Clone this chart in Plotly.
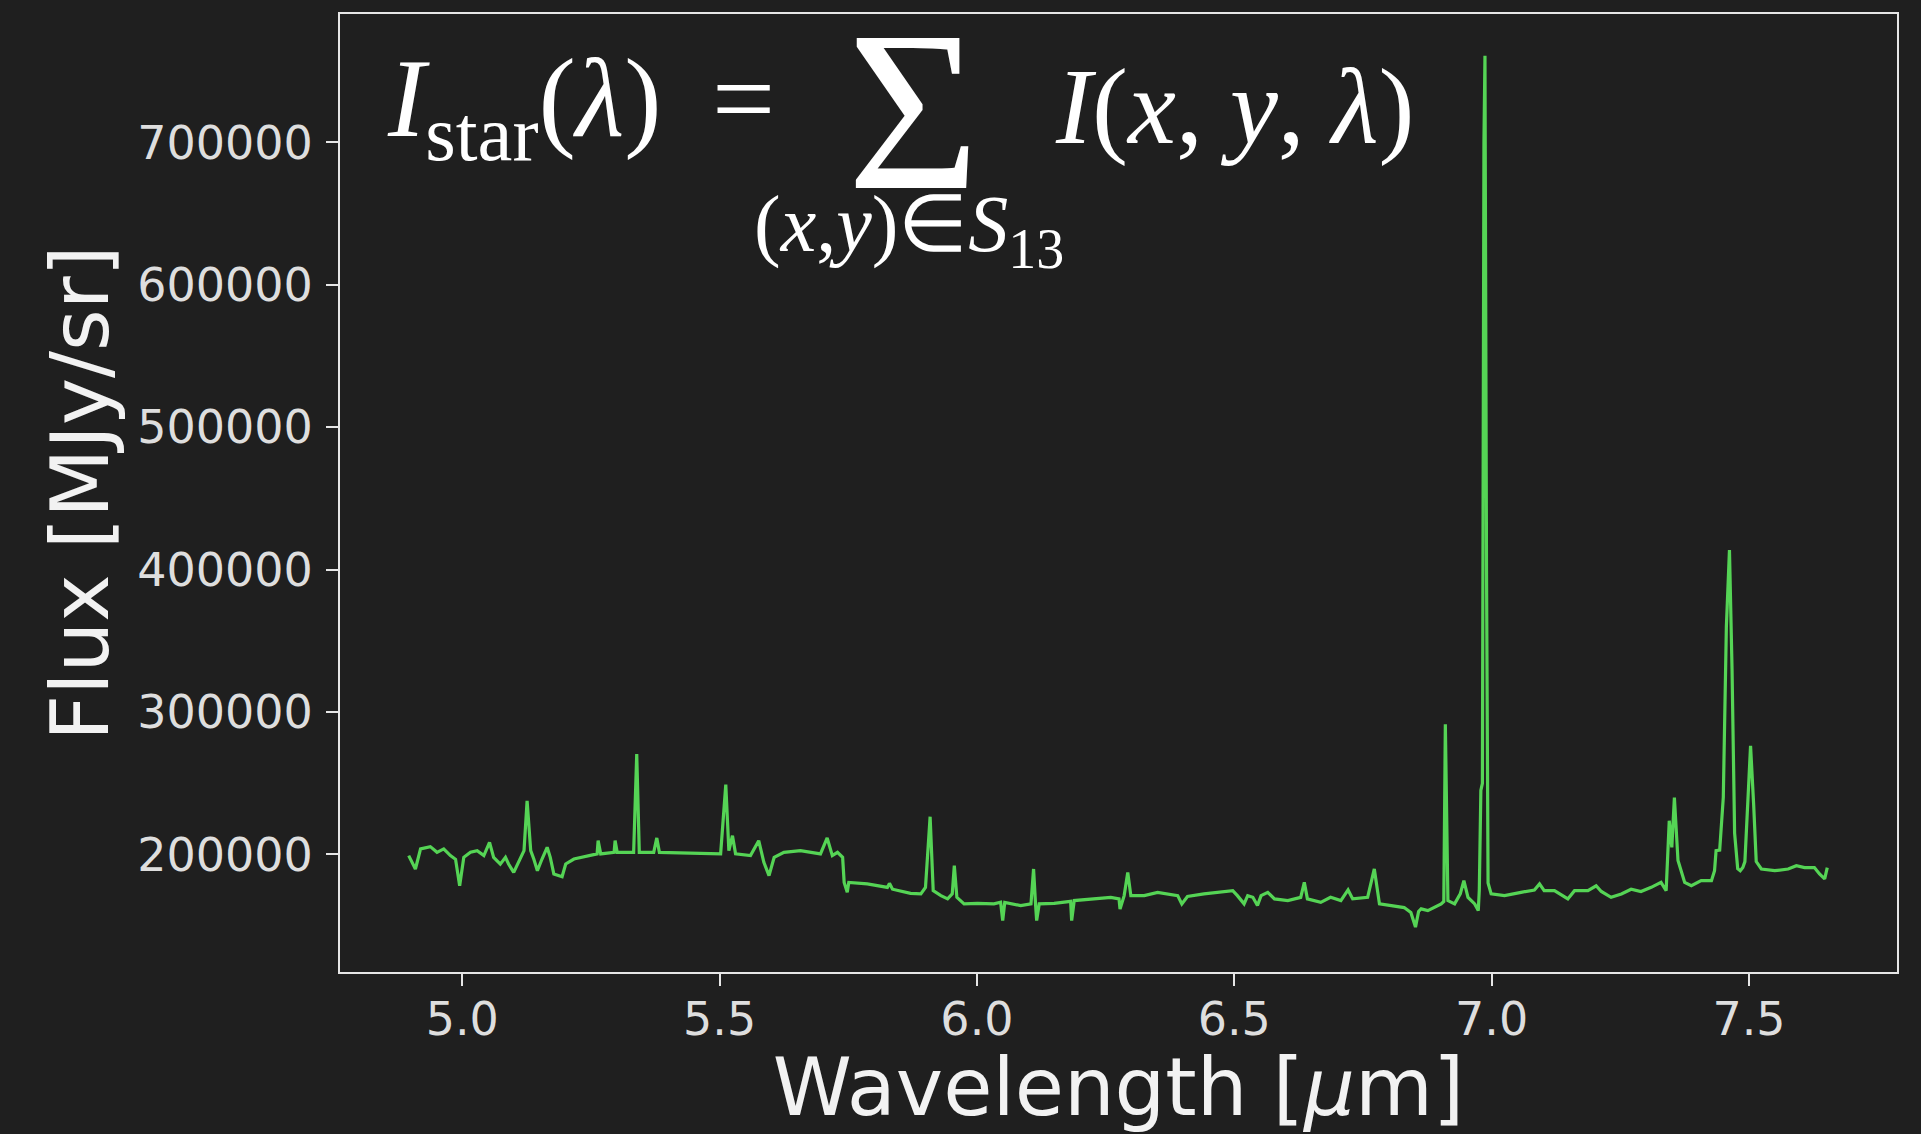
import plotly.graph_objects as go

# ---- data ----
wavelength = [
    4.896, 4.909, 4.919, 4.938, 4.951, 4.964, 4.977, 4.987, 4.995, 5.003,
    5.016, 5.029, 5.042, 5.053, 5.061, 5.074, 5.084, 5.090, 5.100, 5.110,
    5.120, 5.126, 5.133, 5.139, 5.146, 5.155, 5.165, 5.171, 5.178, 5.194,
    5.201, 5.217, 5.243, 5.262, 5.264, 5.269, 5.295, 5.297, 5.301, 5.333,
    5.339, 5.344, 5.372, 5.378, 5.383, 5.463, 5.502, 5.512, 5.518, 5.525,
    5.531, 5.560, 5.576, 5.586, 5.596, 5.606, 5.625, 5.657, 5.683, 5.696,
    5.709, 5.719, 5.729, 5.739, 5.742, 5.748, 5.751, 5.787, 5.826, 5.830,
    5.836, 5.871, 5.891, 5.900, 5.909, 5.915, 5.930, 5.943, 5.952, 5.956,
    5.961, 5.975, 6.001, 6.033, 6.046, 6.050, 6.054, 6.085, 6.105, 6.110,
    6.114, 6.116, 6.121, 6.150, 6.182, 6.184, 6.189, 6.228, 6.260, 6.276,
    6.278, 6.286, 6.293, 6.299, 6.325, 6.351, 6.390, 6.398, 6.409, 6.441,
    6.474, 6.497, 6.506, 6.519, 6.526, 6.536, 6.545, 6.552, 6.565, 6.578,
    6.604, 6.629, 6.636, 6.642, 6.668, 6.687, 6.707, 6.721, 6.730, 6.759,
    6.772, 6.782, 6.805, 6.830, 6.843, 6.852, 6.858, 6.863, 6.876, 6.889,
    6.902, 6.907, 6.910, 6.915, 6.928, 6.939, 6.946, 6.954, 6.967, 6.974,
    6.976, 6.979, 6.982, 6.985, 6.987, 6.990, 6.993, 6.999, 7.025, 7.057,
    7.083, 7.093, 7.102, 7.122, 7.148, 7.161, 7.187, 7.203, 7.213, 7.232,
    7.252, 7.271, 7.290, 7.310, 7.329, 7.339, 7.345, 7.350, 7.355, 7.362,
    7.375, 7.388, 7.407, 7.427, 7.433, 7.436, 7.443, 7.450, 7.456, 7.462,
    7.467, 7.472, 7.478, 7.483, 7.488, 7.492, 7.497, 7.503, 7.509, 7.514,
    7.524, 7.550, 7.576, 7.592, 7.608, 7.627, 7.637, 7.647, 7.652,
]
flux = [
    199200, 189800, 203900, 205500, 201500, 203900, 199200, 196600, 178100, 198000,
    201500, 202700, 199200, 208500, 198000, 193200, 198000, 193300, 187400, 194500,
    202700, 237700, 202700, 196800, 188600, 196800, 205000, 198000, 186300, 184400,
    193300, 196800, 199200, 200400, 209700, 200400, 201500, 209700, 201500, 201500,
    270500, 201500, 201500, 211600, 201500, 200400, 200400, 249000, 202700, 213200,
    200400, 199200, 209700, 194500, 185100, 198000, 201500, 202700, 201500, 200400,
    211600, 199200, 201500, 198000, 180400, 173400, 180400, 179300, 176900, 179700,
    175600, 172700, 172300, 176900, 226500, 174600, 171100, 168800, 172300, 192100,
    169900, 165300, 165700, 165300, 166400, 153600, 166400, 164100, 165300, 189800,
    164100, 153600, 165300, 165700, 167100, 153600, 167600, 168800, 169900, 168800,
    161600, 171100, 187400, 171100, 171100, 173400, 171100, 165300, 170500, 172300,
    173400, 174600, 171100, 165300, 171100, 169900, 164100, 171100, 173400, 168800,
    167600, 169900, 180400, 168800, 166400, 169900, 167600, 175100, 168800, 169900,
    189800, 165300, 164100, 162700, 159200, 149000, 160000, 161800, 160600, 162900,
    165300, 167000, 291500, 167600, 165300, 172300, 181600, 169900, 165300, 160600,
    175000, 245000, 250000, 700000, 760800, 400000, 180000, 172300, 171100, 173400,
    175000, 179300, 174600, 174600, 168800, 174600, 174600, 178000, 174000, 169900,
    172300, 175600, 174000, 176900, 180400, 174600, 223700, 205000, 240000, 195700,
    180400, 178100, 181600, 181600, 188600, 202700, 203000, 240000, 360000, 413700,
    330000, 215000, 190000, 188600, 190800, 195000, 235000, 276300, 235000, 195000,
    189800, 188600, 189800, 192100, 190800, 190800, 186300, 182800, 190800,
]

x_ticks = [5.0, 5.5, 6.0, 6.5, 7.0, 7.5]
y_ticks = [200000, 300000, 400000, 500000, 600000, 700000]

BG = "#1f1f1f"
FG = "#e6e6e6"
LINE = "#55d455"

fig = go.Figure()
fig.add_trace(go.Scatter(
    x=wavelength, y=flux, mode="lines",
    line=dict(color=LINE, width=3.2),
    hoverinfo="skip", showlegend=False,
))

axis_common = dict(
    showgrid=False, zeroline=False, showline=True, mirror=True,
    linecolor=FG, linewidth=2, ticks="outside", ticklen=12, tickwidth=2,
    tickcolor=FG, tickfont=dict(family="DejaVu Sans", size=46, color="#dedede"),
)

fig.update_layout(
    width=1921, height=1134,
    paper_bgcolor=BG, plot_bgcolor=BG,
    margin=dict(l=340, r=24, t=12, b=162),
    xaxis=dict(
        range=[4.7625, 7.7875], tickvals=x_ticks,
        ticktext=[f"{v:.1f}" for v in x_ticks],
        title=dict(text="Wavelength [<i>μ</i>m]", standoff=14,
                   font=dict(family="DejaVu Sans", size=80, color="#f2f2f2")),
        **axis_common,
    ),
    yaxis=dict(
        range=[117462, 790182], tickvals=y_ticks,
        ticktext=[str(v) for v in y_ticks],
        title=dict(text="Flux [MJy/sr]", standoff=2,
                   font=dict(family="DejaVu Sans", size=80, color="#f2f2f2")),
        **axis_common,
    ),
)
try:
    fig.update_xaxes(ticklabelstandoff=-6)
    fig.update_yaxes(ticklabelstandoff=4)
except Exception:
    pass

SERIF = "Liberation Serif"
fcol = "#ffffff"
fig.add_annotation(
    xref="paper", yref="paper", x=0.029, y=0.903, xanchor="left", yanchor="middle",
    text="<i>I</i><sub>star</sub>(<i>λ</i>) \u2009=", showarrow=False,
    font=dict(family=SERIF, size=112, color=fcol),
)
fig.add_annotation(
    xref="paper", yref="paper", x=0.3683, y=0.8985, xanchor="center", yanchor="middle",
    text="Σ", showarrow=False,
    font=dict(family=SERIF, size=228, color=fcol),
)
fig.add_annotation(
    xref="paper", yref="paper", x=0.458, y=0.903, xanchor="left", yanchor="middle",
    text="<i>I</i>(<i>x</i>, <i>y</i>, <i>λ</i>)", showarrow=False,
    font=dict(family=SERIF, size=108, color=fcol),
)
fig.add_annotation(
    xref="paper", yref="paper", x=0.2645, y=0.775, xanchor="left", yanchor="middle",
    text="(<i>x</i>,<i>y</i>)∈<i>S</i><sub>13</sub>", showarrow=False,
    font=dict(family=SERIF, size=80, color=fcol),
)

fig.write_html("out.html", config={"displayModeBar": False},
               post_script="document.body.style.margin='0';")
